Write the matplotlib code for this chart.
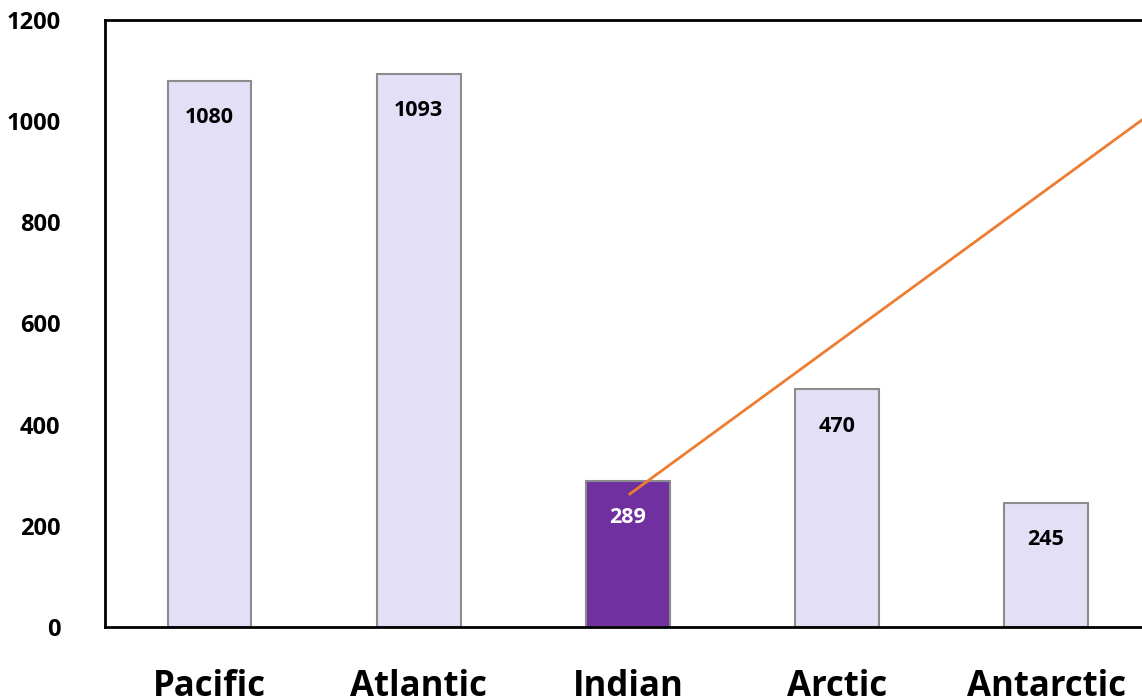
import matplotlib
matplotlib.use("Agg")
import matplotlib.pyplot as plt

plt.rcParams['font.family'] = ['Open Sans', 'DejaVu Sans']

oceans = ["Pacific", "Atlantic", "Indian", "Arctic", "Antarctic"]
values = [1080, 1093, 289, 470, 245]
highlight = "Indian"
y_ticks = [0, 200, 400, 600, 800, 1000, 1200]

light = "#E3DFF6"
dark = "#7030A0"
edge = "#8C8C8C"
orange = "#ED7D31"

fig = plt.figure(figsize=(11.42, 6.99), dpi=100)
ax = fig.add_axes([0.092, 0.103, 0.9155, 0.8684])

x = range(len(oceans))
colors = [dark if o == highlight else light for o in oceans]
bars = ax.bar(x, values, width=0.4, color=colors, edgecolor=edge, linewidth=1.5, zorder=2)

for i, (b, v) in enumerate(zip(bars, values)):
    ax.annotate(str(v), xy=(b.get_x() + b.get_width() / 2, v), xytext=(0, -26.5),
                textcoords="offset points", ha="center", va="center",
                fontsize=15.5, fontweight="bold",
                color="white" if oceans[i] == highlight else "black", zorder=3)

# leader line from the highlighted bar toward the upper right
hi = oceans.index(highlight)
ax.plot([hi + 0.01, hi + 2.6], [263, 1045], color=orange, linewidth=2,
        clip_on=False, zorder=4)

ax.set_xlim(-0.5, 4.5)
ax.set_ylim(0, 1200)
ax.set_yticks(y_ticks)
ax.set_yticklabels([str(t) for t in y_ticks], fontsize=17, fontweight="bold")
ax.set_xticks(list(x))
ax.set_xticklabels(oceans, fontsize=25, fontweight="bold")
ax.tick_params(axis="y", length=0, pad=32)
ax.tick_params(axis="x", length=0, pad=30)

for side in ["top", "left", "bottom", "right"]:
    ax.spines[side].set_linewidth(2)
    ax.spines[side].set_color("black")

fig.savefig("out.png", dpi=100)
